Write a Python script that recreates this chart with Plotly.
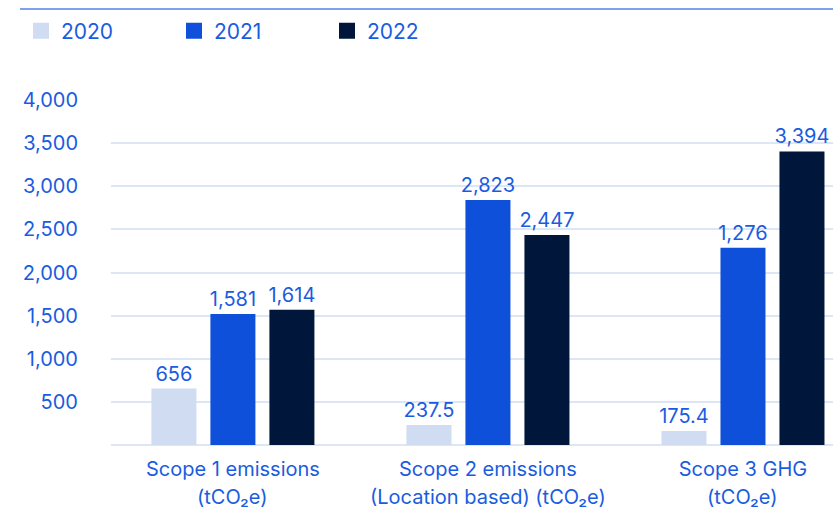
import plotly.graph_objects as go

categories = ["Scope 1 emissions", "Scope 2 emissions", "Scope 3 GHG"]
category_units = ["(tCO₂e)", "(Location based) (tCO₂e)", "(tCO₂e)"]
years = ["2020", "2021", "2022"]
# bar heights as drawn in the picture
heights_2020 = [654, 232, 162]
heights_2021 = [1520, 2840, 2288]
heights_2022 = [1569, 2435, 3404]
# printed value labels
labels_2020 = ["656", "237.5", "175.4"]
labels_2021 = ["1,581", "2,823", "1,276"]
labels_2022 = ["1,614", "2,447", "3,394"]
colors = ["#cfdcf2", "#0f50da", "#00163a"]
tick_vals = [500, 1000, 1500, 2000, 2500, 3000, 3500, 4000]

TXT = "#1a5ce0"
FONT = "Inter"

fig = go.Figure()
for name, h, lab, c in zip(years, [heights_2020, heights_2021, heights_2022],
                           [labels_2020, labels_2021, labels_2022], colors):
    fig.add_trace(go.Bar(x=categories, y=h, text=lab, name=name,
                         marker=dict(color=c, line=dict(width=0)),
                         textposition="outside", cliponaxis=False,
                         constraintext="none",
                         textfont=dict(color=TXT, size=20, family=FONT),
                         showlegend=False, hoverinfo="skip"))
    fig.add_trace(go.Scatter(x=[None], y=[None], mode="markers", name=name,
                             marker=dict(symbol="square", size=18, color=c),
                             showlegend=True))

W, H = 833, 508
ml, mr, mt, mb = 111, 0, 100, 63
PW, PH = W - ml - mr, H - mt - mb

annotations = [dict(x=cat, y=-(497 - 445) / PH, xref="x", yref="paper",
                    text=unit, showarrow=False, xanchor="center",
                    yanchor="middle",
                    font=dict(family=FONT, color=TXT, size=20))
               for cat, unit in zip(categories, category_units)]

fig.update_layout(
    width=W, height=H,
    margin=dict(l=ml, r=mr, t=mt, b=mb, pad=0),
    paper_bgcolor="white", plot_bgcolor="white",
    font=dict(family=FONT, color=TXT, size=20),
    barmode="group", bargap=0.306, bargroupgap=0.237,
    legend=dict(orientation="h", x=(21 - ml) / PW, xanchor="left",
                y=1 + (100 - 31) / PH, yanchor="middle",
                entrywidth=108, entrywidthmode="pixels",
                font=dict(family=FONT, color=TXT, size=21),
                itemclick=False, bgcolor="rgba(0,0,0,0)"),
    xaxis=dict(range=[-0.478, 2.353], showgrid=False, showline=False,
               ticks="", tickfont=dict(family=FONT, color=TXT, size=20),
               ticklabelstandoff=10, fixedrange=True),
    yaxis=dict(range=[0, 4001], tickvals=tick_vals,
               ticktext=[f"{v:,}" for v in tick_vals],
               showgrid=True, gridcolor="#dde6f5", gridwidth=1.5,
               zeroline=True, zerolinecolor="#dde6f5", zerolinewidth=1.5,
               showline=False, ticks="", ticklabelstandoff=32,
               tickfont=dict(family=FONT, color=TXT, size=20)),
    annotations=annotations,
    shapes=[dict(type="line", xref="paper", yref="paper",
                 x0=(20 - ml) / PW, x1=1.0,
                 y0=1 + (100 - 9) / PH, y1=1 + (100 - 9) / PH,
                 line=dict(color="#7ba3f0", width=2))],
)

fig.write_html("out.html", post_script="document.body.style.margin='0';",
               config={"displayModeBar": False})
